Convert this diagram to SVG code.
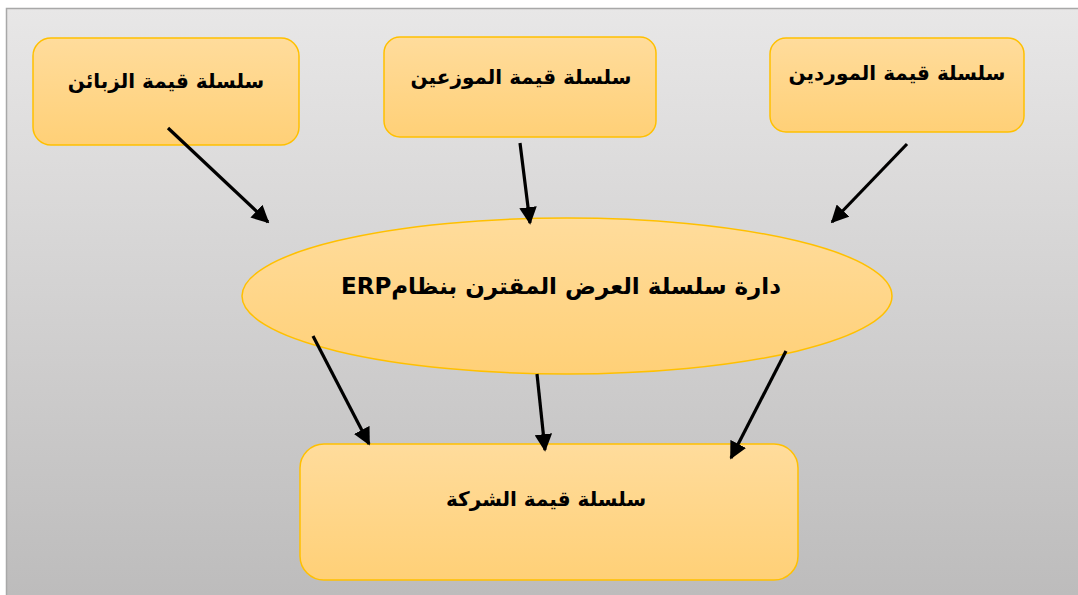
<svg xmlns="http://www.w3.org/2000/svg" width="1078" height="595" viewBox="0 0 1078 595">
  <defs>
    <linearGradient id="bg" x1="0" y1="0" x2="0" y2="1">
      <stop offset="0" stop-color="#e8e7e7"/>
      <stop offset="1" stop-color="#bcbbbb"/>
    </linearGradient>
    <linearGradient id="nodeFill" x1="0" y1="0" x2="0" y2="1">
      <stop offset="0" stop-color="#ffdc9c"/>
      <stop offset="1" stop-color="#ffd077"/>
    </linearGradient>
    <marker id="arrow" viewBox="0 0 10 10" refX="9" refY="5" markerWidth="5.5" markerHeight="5.5" orient="auto" markerUnits="strokeWidth">
      <path d="M0,0 L10,5 L0,10 z" fill="#000"/>
    </marker>
    <style>
      .node { fill: url(#nodeFill); stroke: #ffc000; stroke-width: 1.5; }
      .label { font-family: "DejaVu Sans", "Liberation Sans", sans-serif; font-weight: bold; font-size: 20px; fill: #000; text-anchor: middle; direction: rtl; }
      .big { font-size: 23px; }
      .link { stroke: #000; stroke-width: 3.2; fill: none; marker-end: url(#arrow); }
    </style>
  </defs>

  <!-- page and frame -->
  <rect x="0" y="0" width="1078" height="595" fill="#ffffff"/>
  <rect x="6.5" y="8.5" width="1080" height="600" fill="url(#bg)" stroke="#a8a8a8" stroke-width="1.5"/>

  <!-- value chain sources -->
  <g id="customers">
    <rect class="node" x="33" y="38" width="266" height="107" rx="18"/>
    <text class="label" x="166" y="88">سلسلة قيمة الزبائن</text>
  </g>
  <g id="distributors">
    <rect class="node" x="384" y="37" width="272" height="100" rx="16"/>
    <text class="label" x="521" y="84">سلسلة قيمة الموزعين</text>
  </g>
  <g id="suppliers">
    <rect class="node" x="770" y="38" width="254" height="94" rx="16"/>
    <text class="label" x="897" y="80">سلسلة قيمة الموردين</text>
  </g>

  <!-- central ERP management -->
  <g id="erp">
    <ellipse class="node" cx="567" cy="296" rx="325" ry="78"/>
    <text class="label big" x="561" y="294">دارة سلسلة العرض المقترن بنظامERP</text>
  </g>

  <!-- company value chain -->
  <g id="company">
    <rect class="node" x="300" y="444" width="498" height="136" rx="24"/>
    <text class="label" x="546" y="506">سلسلة قيمة الشركة</text>
  </g>

  <!-- connectors -->
  <g id="connectors">
    <line class="link" x1="168" y1="128" x2="268" y2="222"/>
    <line class="link" x1="520" y1="143" x2="530" y2="223"/>
    <line class="link" x1="907" y1="144" x2="832" y2="222"/>
    <line class="link" x1="313" y1="336" x2="369" y2="444"/>
    <line class="link" x1="537" y1="374" x2="545" y2="450"/>
    <line class="link" x1="786" y1="351" x2="731" y2="458"/>
  </g>
</svg>
